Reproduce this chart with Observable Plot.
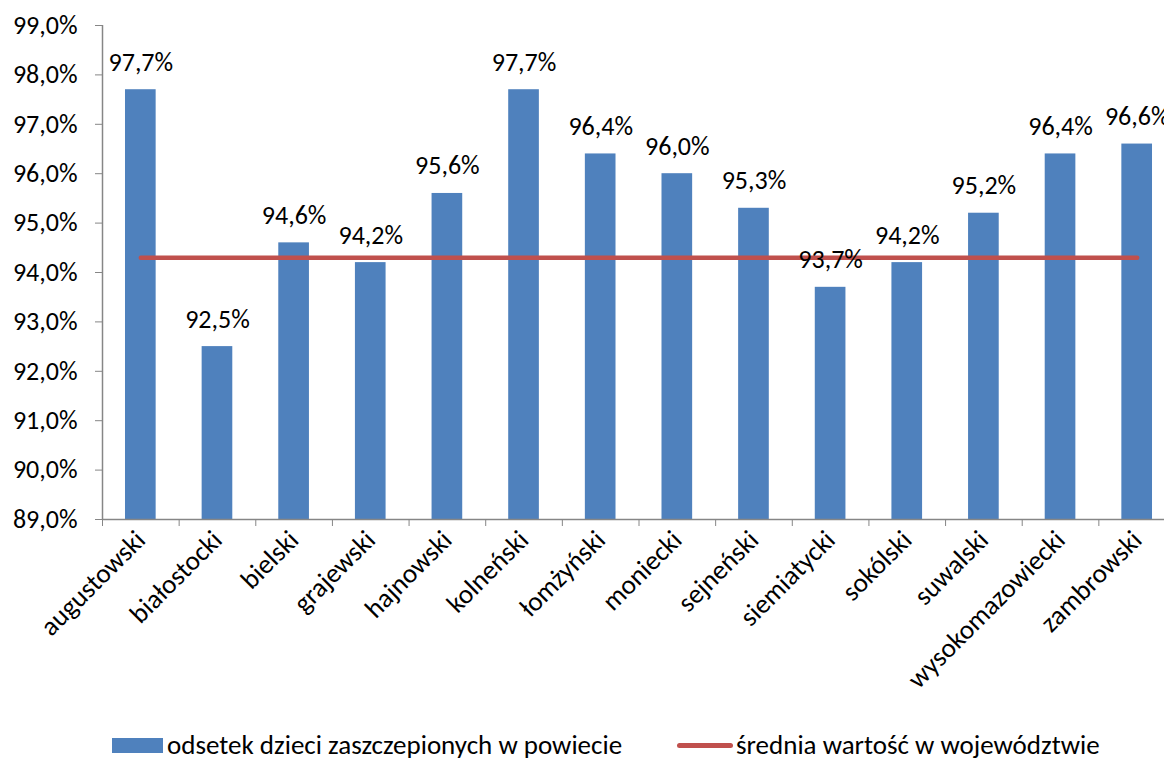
<!DOCTYPE html>
<html>
<head>
<meta charset="utf-8">
<script src="https://cdn.jsdelivr.net/npm/d3@7"></script>
<script src="https://cdn.jsdelivr.net/npm/@observablehq/plot@0.6"></script>
<style>
  body { margin: 0; background: #fff; font-family: Carlito, Lato, "Open Sans", sans-serif; }
  #wrap { position: relative; width: 1164px; height: 760px; overflow: hidden; }
  #legend { position: absolute; left: 0; top: 731px; width: 1164px; height: 28px; font-size: 27px; color: #000; }
  .sw { position: absolute; }
  .lt { position: absolute; white-space: nowrap; line-height: 28px; }
</style>
</head>
<body>
<div id="wrap">
  <div id="chart"></div>
  <div id="legend"></div>
</div>
<script>
const powiaty = ["augustowski","białostocki","bielski","grajewski","hajnowski","kolneński","łomżyński","moniecki","sejneński","siemiatycki","sokólski","suwalski","wysokomazowiecki","zambrowski"];
const odsetek = [97.7, 92.5, 94.6, 94.2, 95.6, 97.7, 96.4, 96.0, 95.3, 93.7, 94.2, 95.2, 96.4, 96.6];
const srednia = [94.3, 94.3, 94.3, 94.3, 94.3, 94.3, 94.3, 94.3, 94.3, 94.3, 94.3, 94.3, 94.3, 94.3];
const yTicks = [89, 90, 91, 92, 93, 94, 95, 96, 97, 98, 99];
const seriesNames = ["odsetek dzieci zaszczepionych w powiecie", "średnia wartość w województwie"];

const data = powiaty.map((p, i) => ({p, v: odsetek[i], s: srednia[i]}));
const fmt = v => d3.format(".1f")(v).replace(".", ",") + "%";

const BLUE = "#4F81BD", RED = "#C0504D", GRAY = "#868686";
const step = (1175 - 102) / powiaty.length;

const chart = Plot.plot({
  width: 1164,
  height: 715,
  marginLeft: 102,
  marginRight: 0,
  marginTop: 25,
  marginBottom: 196,
  style: {fontFamily: "Carlito, Lato, 'Open Sans', sans-serif", fontSize: "26px", color: "#000", background: "#fff"},
  x: {domain: powiaty, range: [102, 1175], paddingInner: 0.6, paddingOuter: 0.3, round: false, label: null},
  y: {domain: [89, 99], label: null},
  marks: [
    Plot.barY(data, {x: "p", y1: 89, y2: "v", fill: BLUE}),
    Plot.ruleY([89], {stroke: GRAY, strokeWidth: 1.5}),
    Plot.ruleX([powiaty[0]], {y1: 89, y2: 99, dx: -step / 2, stroke: GRAY, strokeWidth: 1.5}),
    Plot.axisY({ticks: yTicks, tickFormat: fmt, tickSize: 7, tickPadding: 18, stroke: GRAY, fontSize: 26, label: null}),
    Plot.axisX({tickSize: 7, tickFormat: () => "", dx: -step / 2, stroke: GRAY, label: null}),
    Plot.axisX({tickSize: 0, tickRotate: -45, tickPadding: 16, fontSize: 27, label: null}),
    Plot.lineY(data, {x: "p", y: "s", stroke: RED, strokeWidth: 4.5, strokeLinecap: "round"}),
    Plot.text(data, {x: "p", y: "v", text: d => fmt(d.v), lineAnchor: "bottom", dy: -19, fontSize: 26, fill: "#000"})
  ]
});
document.getElementById("chart").appendChild(chart);

const lg = document.getElementById("legend");
lg.innerHTML = `
  <div class="sw" style="left:112px; top:7px; width:51px; height:15px; background:${BLUE}"></div>
  <div class="lt" style="left:167px; top:0">${seriesNames[0]}</div>
  <div class="sw" style="left:677px; top:12px; width:56px; height:5px; border-radius:3px; background:${RED}"></div>
  <div class="lt" style="left:736px; top:0">${seriesNames[1]}</div>
`;
</script>
</body>
</html>
